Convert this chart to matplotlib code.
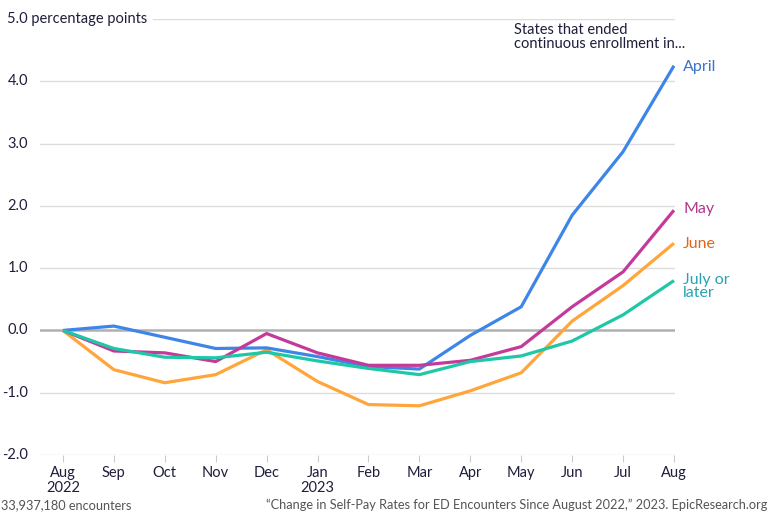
import matplotlib
matplotlib.use("Agg")
import matplotlib.pyplot as plt
import matplotlib.transforms as mtransforms

plt.rcParams['font.family'] = ['Lato', 'DejaVu Sans']

months = ["Aug\n2022", "Sep", "Oct", "Nov", "Dec", "Jan\n2023", "Feb", "Mar",
          "Apr", "May", "Jun", "Jul", "Aug"]
april = [0.0, 0.07, -0.11, -0.29, -0.28, -0.42, -0.58, -0.62, -0.08, 0.38, 1.85, 2.87, 4.25]
may = [0.0, -0.33, -0.36, -0.50, -0.05, -0.36, -0.56, -0.56, -0.48, -0.26, 0.38, 0.94, 1.93]
june = [0.0, -0.63, -0.84, -0.71, -0.31, -0.82, -1.19, -1.21, -0.97, -0.68, 0.15, 0.72, 1.40]
july = [0.0, -0.29, -0.43, -0.44, -0.35, -0.49, -0.61, -0.71, -0.50, -0.41, -0.17, 0.25, 0.80]
yticks = [-2.0, -1.0, 0.0, 1.0, 2.0, 3.0, 4.0, 5.0]
ytick_labels = ["-2.0", "-1.0", "0.0", "1.0", "2.0", "3.0", "4.0", "5.0 percentage points"]

TEXT = "#1e1e3c"
fig = plt.figure(figsize=(7.68, 5.12), dpi=100)
ax = fig.add_axes([40/768, 1-455/512, 635/768, 436/512])
x = list(range(len(months)))
ax.set_xlim(-0.45, 12.02)
ax.set_ylim(-2, 5)

# gridlines
for yv in yticks:
    if yv == 0.0:
        ax.axhline(yv, color="#b0b0b0", lw=1.8, zorder=1)
    elif yv == 5.0:
        ax.axhline(yv, xmin=(153-40)/635, color="#dcdcdc", lw=1.0, zorder=1)
    else:
        ax.axhline(yv, color="#dcdcdc", lw=1.0, zorder=1)

series = [(june, "#ffa53a"), (april, "#3d86e8"), (may, "#c43a9a"), (july, "#1ec7a5")]
for vals, c in series:
    ax.plot(x, vals, color=c, lw=2.3, zorder=3, solid_capstyle='butt', solid_joinstyle='miter')

for s in ax.spines.values():
    s.set_visible(False)
ax.set_yticks([])
ax.set_xticks(x)
ax.set_xticklabels(months, fontsize=10.5, color=TEXT, linespacing=1.05)
ax.tick_params(axis='x', length=5, color="#cccccc", pad=3)

# y labels
trans = mtransforms.blended_transform_factory(fig.transFigure, ax.transData)
for yv, lab in zip(yticks, ytick_labels):
    if yv == 5.0:
        ax.text(7/768, yv, lab, transform=trans, ha='left', va='center', fontsize=10.5, color=TEXT)
    else:
        ax.text(28/768, yv, lab, transform=trans, ha='right', va='center', fontsize=10.5, color=TEXT)

# series labels
lab_x = 12.18
ax.text(lab_x, april[-1] - 0.02, "April", color="#3b73c9", fontsize=11.5, va='center', ha='left', clip_on=False)
ax.text(lab_x, may[-1] + 0.02, "May", color="#b2388c", fontsize=11.5, va='center', ha='left', clip_on=False)
ax.text(lab_x, june[-1] - 0.01, "June", color="#e0661c", fontsize=11.5, va='center', ha='left', clip_on=False)
ax.text(lab_x, july[-1] + 0.13, "July or\nlater", color="#28a3b0", fontsize=11.5, va='top', ha='left',
        linespacing=0.95, clip_on=False)
ax.text(514/768, 1-37/512, "States that ended\ncontinuous enrollment in...", transform=fig.transFigure,
        color=TEXT, fontsize=10.5, va='center', ha='left', linespacing=1.0)

# footer
fig.text(1/768, 1-505/512, "33,937,180 encounters", fontsize=9.2, color="#555555", ha='left', va='center')
fig.text(767/768, 1-505/512, "\u201cChange in Self-Pay Rates for ED Encounters Since August 2022,\u201d 2023. EpicResearch.org",
         fontsize=9.2, color="#555555", ha='right', va='center')

fig.savefig("out.png", dpi=100)
